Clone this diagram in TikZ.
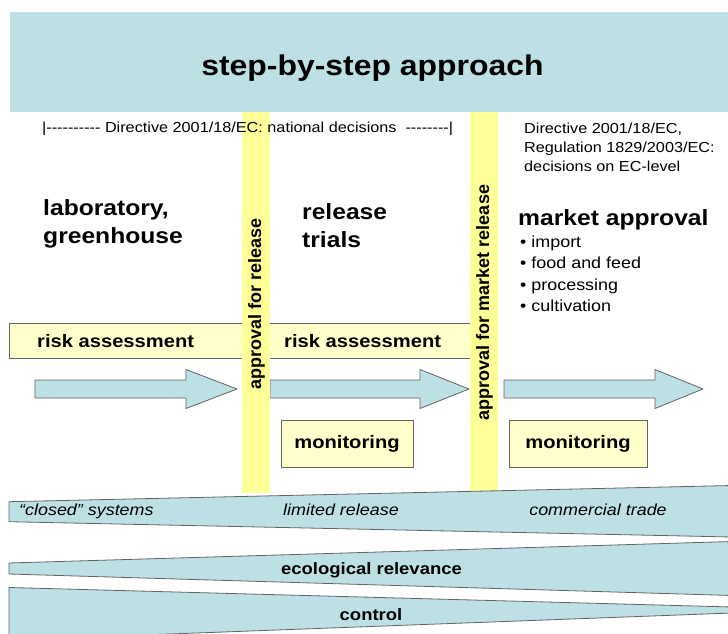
\documentclass[tikz,border=0pt]{standalone}
\usepackage{fontspec}
\setmainfont{Liberation Sans}[FakeStretch=1.12]
\newfontfamily\rotfont{Liberation Sans}
\definecolor{teal1}{RGB}{188,224,228}
\definecolor{ybar}{RGB}{255,255,153}
\definecolor{ybox}{RGB}{255,255,204}
\definecolor{edge}{RGB}{100,100,100}
\newcommand{\hy}{-{}}
\tikzset{
  shapefill/.style={fill=teal1, draw=edge, line width=0.8pt, line join=round},
  ybarstyle/.style={fill=ybar, draw=none},
  monbox/.style={draw=edge, line width=0.8pt, fill=ybox, minimum height=47pt, inner sep=0pt, font=\bfseries\fontsize{18}{20}\selectfont},
  lbl/.style={anchor=base west, inner sep=0pt},
  clbl/.style={anchor=base, inner sep=0pt},
  bigbold/.style={font=\bfseries\fontsize{22}{26}\selectfont},
  smalltxt/.style={font=\fontsize{14.5}{17}\selectfont},
  bullettxt/.style={font=\fontsize{16}{18}\selectfont},
  risktxt/.style={font=\bfseries\fontsize{18}{20}\selectfont},
  wedgeit/.style={font=\itshape\fontsize{16}{18}\selectfont},
  wedgebf/.style={font=\bfseries\fontsize{16.5}{18}\selectfont},
  rottxt/.style={rotate=90, inner sep=0pt, font=\rotfont\bfseries\fontsize{18}{20}\selectfont}
}
\begin{document}
\begin{tikzpicture}[x=1pt,y=-1pt]
\useasboundingbox (0,0) rectangle (728,634);
% banner
\fill[teal1] (9.5,12) rectangle (730,112);
\node[clbl, font=\bfseries\fontsize{28.5}{32}\selectfont] (title) at (372.5,75) {step-by-step approach};
% risk assessment box
\draw[fill=ybox, draw=edge, line width=0.8pt] (9,323) rectangle (470,358);
% arrows
\draw[shapefill] (35,380) -- (186,380) -- (186,369.5) -- (237,389) -- (186,408.5) -- (186,398) -- (35,398) -- cycle;
\draw[shapefill] (270,380) -- (420,380) -- (420,369.5) -- (469,389) -- (420,408.5) -- (420,398) -- (270,398) -- cycle;
\draw[shapefill] (504,380) -- (655,380) -- (655,369.5) -- (703,389) -- (655,408.5) -- (655,398) -- (504,398) -- cycle;
% yellow bars
\fill[ybarstyle] (242,112) rectangle (270,493);
\fill[ybarstyle] (470,112) rectangle (498,493);
\node[rottxt] (appr1) at (256.5,304) {approval for release};
\node[rottxt] (appr2) at (484.5,302.5) {approval for market release};
% monitoring boxes
\node[monbox, minimum width=132pt] (mon1) at (347,443.5) {monitoring};
\node[monbox, minimum width=138pt] (mon2) at (578,443.5) {monitoring};
% wedges
\draw[shapefill] (9,501.7) -- (732,485.5) -- (732,537) -- (9,521.7) -- cycle;
\draw[shapefill] (9,563) -- (732,541.5) -- (732,595.5) -- (9,574) -- cycle;
\draw[shapefill] (9,587.5) -- (732,607) -- (732,613) -- (9,640) -- cycle;
% texts
\node[lbl, smalltxt] (dir) at (42,132) {|\hy\hy\hy\hy\hy\hy\hy\hy\hy\hy{} Directive 2001/18/EC: national decisions\ \ \hy\hy\hy\hy\hy\hy\hy\hy|};
\node[lbl, smalltxt] (ec1) at (524,133) {Directive 2001/18/EC,};
\node[lbl, smalltxt] (ec2) at (524,152) {Regulation 1829/2003/EC:};
\node[lbl, smalltxt] (ec3) at (524,171) {decisions on EC-level};
\node[lbl, bigbold] (lab1) at (43,215) {laboratory,};
\node[lbl, bigbold] (lab2) at (43,243) {greenhouse};
\node[lbl, bigbold] (rel1) at (302,219) {release};
\node[lbl, bigbold] (rel2) at (302,247) {trials};
\node[lbl, bigbold] (mkt) at (518,225) {market approval};
\node[lbl, bullettxt] (b1) at (520,247) {• import};
\node[lbl, bullettxt] (b2) at (520,268.5) {• food and feed};
\node[lbl, bullettxt] (b3) at (520,290) {• processing};
\node[lbl, bullettxt] (b4) at (520,311.5) {• cultivation};
\node[lbl, risktxt] (risk1) at (37,347) {risk assessment};
\node[lbl, risktxt] (risk2) at (284,347) {risk assessment};
\node[lbl, wedgeit] (w1a) at (19,515) {“closed” systems};
\node[clbl, wedgeit] (w1b) at (341,515) {limited release};
\node[clbl, wedgeit] (w1c) at (598,515) {commercial trade};
\node[clbl, wedgebf] (w2) at (371.5,574) {ecological relevance};
\node[clbl, wedgebf] (w3) at (371,620) {control};
\end{tikzpicture}
\end{document}
